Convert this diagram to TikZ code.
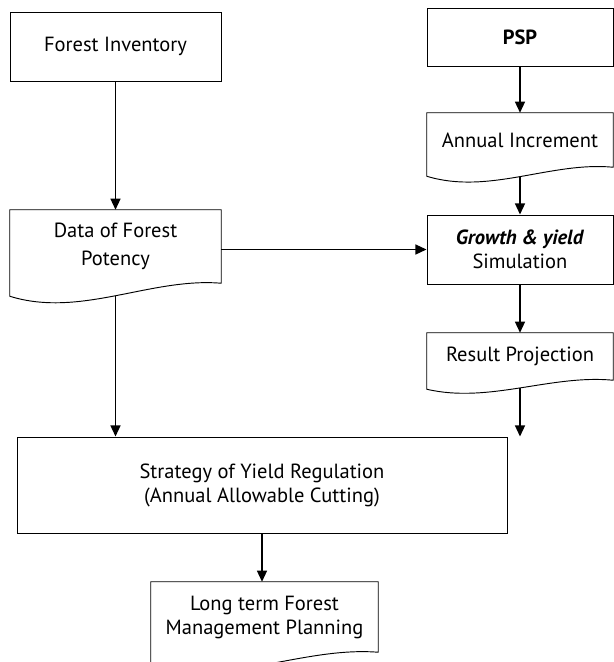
\documentclass[tikz,border=0pt]{standalone}
\usepackage{fontspec}
\setmainfont{PT Sans}
\usetikzlibrary{arrows.meta, calc, positioning}

\tikzset{
  box/.style={draw, line width=0.8pt, align=center, inner sep=0pt,
    font=\fontsize{17.5}{20.5}\selectfont},
  doc/.style={align=center, inner sep=0pt,
    font=\fontsize{17.5}{20.5}\selectfont},
  flow/.style={-{Triangle[length=9.5pt,width=8.5pt]}, line width=1.4pt},
}

\newcommand{\docshape}[3]{%
  \draw[line width=0.8pt] (#1.north west) -- ($(#1.south west)+(0,#2)$)
    .. controls ($(#1.south west)!0.333!(#1.south east)+(0,#2+#3)$)
    and ($(#1.south west)!0.667!(#1.south east)+(0,-6)$) .. (#1.south east)
    -- (#1.north east) -- cycle;
  \coordinate (#1-b) at ($(#1.south)+(0,{0.5*#2+0.375*#3-2.25})$);}

\begin{document}
\begin{tikzpicture}[x=0.03cm, y=-0.03cm]
\useasboundingbox (0,0) rectangle (614,662);

\node[box, minimum width=6.33cm, minimum height=2.07cm] (inv) at (115.5,46.5) {Forest Inventory};
\node[box, minimum width=5.58cm, minimum height=1.74cm] (psp) at (520,37) {\textbf{PSP}};

\node[doc, minimum width=5.58cm, minimum height=1.62cm] (inc) at (520,140) {Annual Increment};
\docshape{inc}{9}{19}

\node[doc, minimum width=6.33cm, minimum height=2.19cm] (data) at (115.5,246.5) {Data of Forest\\[3pt]Potency};
\docshape{data}{13}{22}

\node[box, minimum width=5.58cm, minimum height=2.07cm] (grow) at (520,249.5) {\textbf{\textit{Growth \& yield}}\\Simulation};

\node[doc, minimum width=5.58cm, minimum height=1.41cm] (res) at (520,356.5) {Result Projection};
\docshape{res}{9}{14.5}

\node[box, minimum width=14.7cm, minimum height=2.88cm] (strat) at (262,485) {Strategy of Yield Regulation\\(Annual Allowable Cutting)};

\node[doc, minimum width=6.81cm, minimum height=2.1cm] (plan) at (264.5,617) {Long term Forest\\Management Planning};
\docshape{plan}{13}{22}

\draw[flow] (inv) -- (data);
\draw[flow] (psp) -- (inc);
\draw[flow] (inc-b) -- (grow);
\draw[flow] (grow) -- (res);
\draw[flow] (grow.west -| data.east) -- (grow.west);
\draw[flow] (data-b) -- (data-b |- strat.north);
\draw[flow] (res-b) -- (res-b |- strat.north);
\draw[flow] (strat.south) -- (strat.south |- plan.north);

\end{tikzpicture}
\end{document}
